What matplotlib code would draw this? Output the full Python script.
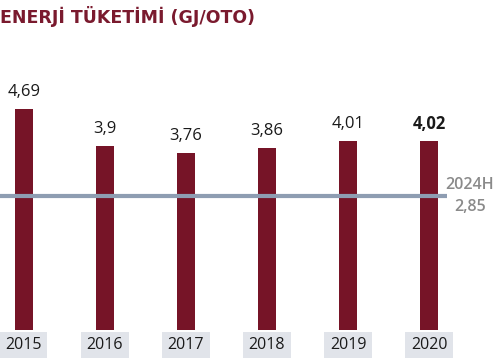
import numpy as np
import matplotlib.pyplot as plt

years = ["2015", "2016", "2017", "2018", "2019", "2020"]
values = [4.69, 3.90, 3.76, 3.86, 4.01, 4.02]
labels = ["4,69", "3,9", "3,76", "3,86", "4,01", "4,02"]
target_label = "2024H"
target_value = 2.85
target_text = "2,85"
title = "ENERJİ TÜKETİMİ (GJ/OTO)"

bar_color = "#761427"
title_color = "#7a1a2e"
line_color = "#8e9db2"
box_color = "#e1e4ea"

fig = plt.figure(figsize=(5.02, 3.63), dpi=100)
ax = fig.add_axes([0, 0, 1, 1])
ax.set_xlim(-0.296, 5.901)
ax.set_ylim(-0.70, 7.006)
ax.axis("off")

x = np.arange(len(years))
ax.bar(x, values, width=0.222, color=bar_color, zorder=1)

ax.plot([-0.4, 5.222], [target_value, target_value], color=line_color,
        lw=3, solid_capstyle="butt", zorder=2)

for i, (v, lab) in enumerate(zip(values, labels)):
    ax.text(i, v + 0.36, lab, ha="center", va="center", fontsize=12,
            family="Open Sans", color="#1a1a1a",
            fontweight="bold" if i == len(values) - 1 else "normal")
    ax.text(i, -0.32, years[i], ha="center", va="center", fontsize=11.5,
            family="Open Sans", color="#1a1a1a",
            bbox=dict(boxstyle="square,pad=0.33", fc=box_color, ec="none"))

ax.text(5.506, target_value + 0.22, target_label, ha="center", va="center",
        fontsize=11.5, family="Open Sans", fontweight="semibold", color="#8a8a8a")
ax.text(5.506, target_value - 0.24, target_text, ha="center", va="center",
        fontsize=11.5, family="Open Sans", fontweight="semibold", color="#8a8a8a")

fig.text(0.0, 0.955, title, ha="left", va="center", fontsize=12.5,
         family="DejaVu Sans", fontweight="bold", color=title_color)

fig.savefig("out.png", dpi=100)
